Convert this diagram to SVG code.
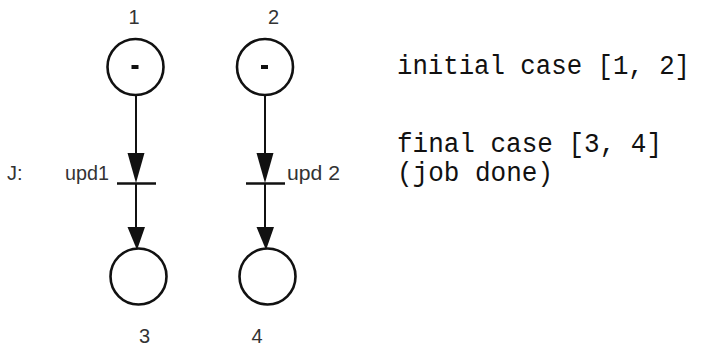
<svg xmlns="http://www.w3.org/2000/svg" width="704" height="349" viewBox="0 0 704 349">
  <style>
    .place { fill: #fff; stroke: #111; stroke-width: 2.6; }
    .token { fill: #111; }
    .bar { stroke: #111; stroke-width: 2.6; }
    .arc { stroke: #111; stroke-width: 2; fill: none; }
    .head { fill: #111; }
    .lbl { font-family: "Liberation Sans", Arial, sans-serif; font-size: 20px; fill: #333; }
    .note { font-family: "Liberation Mono", "Courier New", monospace; font-size: 27px; fill: #111; }
  </style>
  <rect width="704" height="349" fill="#fff"/>

  <!-- arcs between places and transitions -->
  <g id="connectors">
    <line class="arc" x1="136" y1="95" x2="136" y2="160"/>
    <polygon class="head" points="127.5,153 144.5,153 136,183"/>
    <line class="arc" x1="136" y1="184" x2="136" y2="232"/>
    <polygon class="head" points="127.5,227 145,227 137,250"/>

    <line class="arc" x1="265" y1="95" x2="265" y2="160"/>
    <polygon class="head" points="256.5,153 273.5,153 265,183"/>
    <line class="arc" x1="265" y1="184" x2="265" y2="232"/>
    <polygon class="head" points="256.5,227 274,227 266,250"/>
  </g>

  <g id="p1">
    <circle class="place" cx="135.5" cy="67" r="28"/>
    <rect class="token" x="131.5" y="65" width="7" height="4"/>
    <text class="lbl" x="134" y="24" text-anchor="middle">1</text>
  </g>
  <g id="p2">
    <circle class="place" cx="265" cy="67" r="28"/>
    <rect class="token" x="261" y="65" width="7" height="4"/>
    <text class="lbl" x="273.5" y="24" text-anchor="middle">2</text>
  </g>

  <g id="t1">
    <line class="bar" x1="117" y1="183.5" x2="156" y2="183.5"/>
    <text class="lbl" x="65" y="180" textLength="44" lengthAdjust="spacingAndGlyphs">upd1</text>
  </g>
  <g id="t2">
    <line class="bar" x1="246" y1="183.5" x2="285" y2="183.5"/>
    <text class="lbl" x="287" y="180" textLength="53" lengthAdjust="spacingAndGlyphs">upd 2</text>
  </g>
  <text class="lbl" x="7" y="180">J:</text>

  <g id="p3">
    <circle class="place" cx="138.5" cy="276.5" r="28"/>
    <text class="lbl" x="144.5" y="343" text-anchor="middle">3</text>
  </g>
  <g id="p4">
    <circle class="place" cx="267.5" cy="276.5" r="28"/>
    <text class="lbl" x="257" y="343" text-anchor="middle">4</text>
  </g>

  <g id="notes">
    <text class="note" x="397" y="74" textLength="293" lengthAdjust="spacingAndGlyphs">initial case [1, 2]</text>
    <text class="note" x="397" y="152" textLength="265" lengthAdjust="spacingAndGlyphs">final case [3, 4]</text>
    <text class="note" x="397" y="181" textLength="156" lengthAdjust="spacingAndGlyphs">(job done)</text>
  </g>
</svg>
